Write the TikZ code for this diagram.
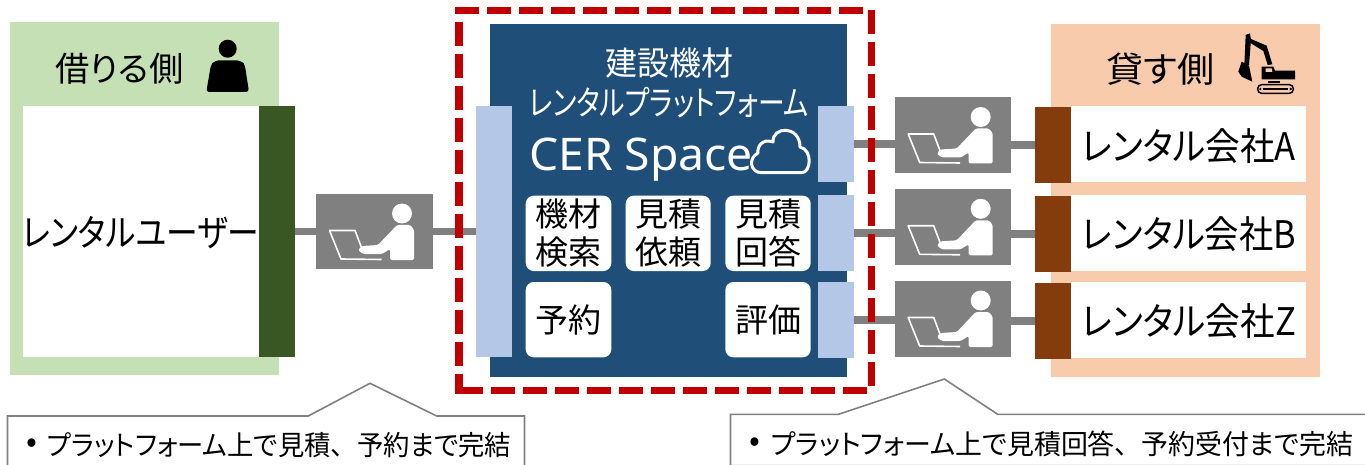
\documentclass[tikz,border=0pt]{standalone}
\usepackage{graphicx}
\usepackage{fontspec}
\setmainfont{Noto Sans CJK JP}[RawFeature={+palt}]
\newfontfamily\fullw{Noto Sans CJK JP}
\newfontfamily\latinfont{Noto Sans}
\usetikzlibrary{calc}
\definecolor{greenbg}{HTML}{C5E0B4}
\definecolor{greendk}{HTML}{385723}
\definecolor{orangebg}{HTML}{F8CBAD}
\definecolor{browndk}{HTML}{843C0C}
\definecolor{navy}{HTML}{1F4E79}
\definecolor{barblue}{HTML}{B4C7E7}
\definecolor{redframe}{HTML}{C00000}
\definecolor{linegrey}{HTML}{808080}
\newcommand\fsz[2]{\fontsize{#1}{#2}\selectfont}
\newcommand\fitw[2]{\resizebox{#1pt}{\height}{#2}}
% \bx{name}{style}{x1}{y1}{x2}{y2}
\newcommand\bx[6]{\node[#2,inner sep=0pt,outer sep=0pt,minimum width={(#5-#3)*1pt},minimum height={(#6-#4)*1pt}] (#1) at ({(#3+#5)/2},{(#4+#6)/2}) {};}
\tikzset{
  greenpanel/.style={fill=greenbg},
  orangepanel/.style={fill=orangebg},
  whitepanel/.style={fill=white},
  darkbar/.style={fill=greendk},
  brownbar/.style={fill=browndk},
  bluebar/.style={fill=barblue},
  navypanel/.style={fill=navy},
  opbox/.style={fill=linegrey},
  funcbox/.style={fill=white,rounded corners=8pt},
  link/.style={draw=linegrey,line width=7.5pt},
  frameline/.style={draw=redframe,line width=7.5pt,dash pattern=on 24pt off 8pt},
  callout/.style={draw=linegrey,line width=1.6pt,fill=white},
  lbl/.style={inner sep=0pt,outer sep=0pt,text=black},
  wlbl/.style={inner sep=0pt,outer sep=0pt,text=white},
  oper/.pic={
    \fill[white] (86,19.5) circle (10);
    \fill[white,rounded corners=1.5pt] (81,31) -- (91,31) .. controls (95,31) and (98,35) .. (98,39) -- (98,66) -- (74,66) -- (74,55) -- (66,60) -- (47,60) -- (42,56) -- (46,52) -- (62,51) -- cycle;
    \draw[white,line width=1.6pt,line join=round] (46,55) -- (39,36.5) -- (13.5,36.5) -- (25,65) -- (65.5,65.5);
  }
}
\begin{document}
\begin{tikzpicture}[x=1pt,y=-1pt]
\useasboundingbox (0,0) rectangle (1365,465);
\clip (0,0) rectangle (1365,465);
% left side
\bx{lpanel}{greenpanel}{10}{22}{279}{375}
\bx{lwhite}{whitepanel}{23}{106}{259}{357}
\bx{lbar}{darkbar}{259}{106}{295}{357}
\node[lbl,font=\fsz{34}{34}] (ltitle) at (119.5,69) {\fitw{128}{借りる側}};
\node[lbl,font=\fsz{37}{37}] (luser) at (140.5,233) {\fitw{237}{レンタルユーザー}};
\fill (227.7,48.7) circle (9);
\fill[rounded corners=3pt] (206.3,92) -- (210.7,66) .. controls (213,62) and (218,60.3) .. (222,60.3) -- (233,60.3) .. controls (238,60.3) and (243,62) .. (245,66) -- (249,92) -- cycle;
% right panel
\bx{rpanel}{orangepanel}{1051}{24}{1320}{377}
\bx{rw1}{whitepanel}{1071}{106}{1306}{182}
\bx{rw2}{whitepanel}{1071}{195}{1306}{271}
\bx{rw3}{whitepanel}{1071}{282}{1306}{358}
\bx{rb1}{brownbar}{1035}{107}{1071}{183}
\bx{rb2}{brownbar}{1035}{196}{1071}{272}
\bx{rb3}{brownbar}{1035}{283}{1071}{359}
\node[lbl,font=\fsz{35}{35}] (rtitle) at (1160.5,69) {\fitw{108}{貸す側}};
\node[lbl,font=\fsz{38}{38}] (ra) at (1189,146) {\fitw{214}{レンタル会社A}};
\node[lbl,font=\fsz{38}{38}] (rb) at (1189,234.5) {\fitw{214}{レンタル会社B}};
\node[lbl,font=\fsz{38}{38}] (rz) at (1189,321.5) {\fitw{214}{レンタル会社Z}};
% excavator
\begin{scope}[shift={(1225,25)},x=0.3333pt,y=-0.3333pt]
\fill (62,30) -- (75,25) -- (78,45) -- (72,120) -- (58,120) -- cycle;
\fill (78,42) -- (125,62) -- (142,118) -- (128,120) -- (115,78) -- (78,55) -- cycle;
\fill (50,110) -- (72,122) -- (82,170) -- (50,155) -- (40,140) -- cycle;
\fill (110,125) -- (145,125) -- (150,137) -- (210,137) -- (210,163) -- (110,163) -- cycle;
\fill[orangebg] (122,130) -- (140,130) -- (142,141) -- (122,141) -- cycle;
\fill (128,168) rectangle (165,175);
\draw[line width=1.5pt,rounded corners=4pt] (98,179) rectangle (205,205);
\fill (113,188) rectangle (190,196);
\fill (106,192) circle (4);
\fill (197,192) circle (4);
\end{scope}
% operators
\bx{opl}{opbox}{316}{194}{433}{269}
\bx{op1}{opbox}{894.7}{97.5}{1011}{173}
\bx{op2}{opbox}{894.7}{189.3}{1011}{265}
\bx{op3}{opbox}{894.7}{281}{1011}{356.7}
% centre
\bx{cpanel}{navypanel}{490}{24}{847}{377}
\bx{cbarl}{bluebar}{476}{106}{512}{357}
\bx{cbar1}{bluebar}{818}{106}{854}{181.7}
\bx{cbar2}{bluebar}{818}{195}{854}{270.7}
\bx{cbar3}{bluebar}{818}{282}{854}{357.7}
% connectors
\draw[link] (lbar.east) -- (opl.west);
\draw[link] (opl.east) -- (cbarl.west);
\draw[link] (cbar1.east) -- (cbar1.east -| op1.west);
\draw[link] (cbar2.east) -- (cbar2.east -| op2.west);
\draw[link] (cbar3.east) -- (cbar3.east -| op3.west);
\draw[link] (rb1.west) -- (rb1.west -| op1.east);
\draw[link] (rb2.west) -- (rb2.west -| op2.east);
\draw[link] (rb3.west) -- (rb3.west -| op3.east);
\pic at (316,194) {oper};
\pic at (894.7,97.5) {oper};
\pic at (894.7,189.3) {oper};
\pic at (894.7,281) {oper};
% centre labels
\node[wlbl,font=\fsz{33}{33}] (ctitle1) at (669,63) {\fitw{128}{建設機材}};
\node[wlbl,font=\fsz{34}{34}] (ctitle2) at (669,103) {\fitw{280}{レンタルプラットフォーム}};
\node[wlbl,font=\latinfont\fsz{45}{45},anchor=base west] (cer) at (529,171) {\fitw{224}{CER Space}};
\draw[white,line width=3pt,line join=round] (761.7,172.7) -- (801.7,172.7) .. controls (811,172.7) and (813,150) .. (800,147) .. controls (800,125) and (772,126) .. (773,142) .. controls (762,138) and (757,147) .. (758,153) .. controls (748,158) and (750,172.7) .. (761.7,172.7) -- cycle;
\bx{f1}{funcbox}{525.7}{195.7}{611.3}{271}
\bx{f2}{funcbox}{625.7}{195.7}{710.7}{271}
\bx{f3}{funcbox}{725.3}{195.7}{810.7}{271}
\bx{f4}{funcbox}{525.7}{282}{611.3}{357.3}
\bx{f5}{funcbox}{725.3}{282}{810.7}{357.3}
\node[lbl,font=\fsz{33}{38},align=center] (t1) at (f1) {機材\\検索};
\node[lbl,font=\fsz{33}{38},align=center] (t2) at (f2) {見積\\依頼};
\node[lbl,font=\fsz{33}{38},align=center] (t3) at (f3) {見積\\回答};
\node[lbl,font=\fsz{33}{38}] (t4) at (f4) {予約};
\node[lbl,font=\fsz{33}{38}] (t5) at (f5) {評価};
% red frame
\draw[frameline] (455,10.5) -- (863,10.5);
\draw[frameline] (871.5,10) -- (871.5,387);
\draw[frameline] (458.7,390.5) -- (867,390.5);
\draw[frameline] (459,21.7) -- (459,394);
% callouts
\draw[callout] (7.5,470) -- (7.5,416) -- (308.3,416) -- (370,383.3) -- (436.7,416) -- (524.5,416) -- (524.5,470);
\draw[callout] (730.5,465.6) -- (730.5,414.3) -- (838.5,414.3) -- (944.3,379) -- (997.7,414.3) -- (1370,414.3) -- (1370,465.6) -- cycle;
\node[lbl,font=\fsz{32}{32}] (n1b) at (32,446) {•};
\node[lbl,font=\fsz{27.5}{27.5}] (n1) at (279,445) {\fitw{464}{プラットフォーム上で見積{\fullw 、}予約まで完結}};
\node[lbl,font=\fsz{32}{32}] (n2b) at (755,444.5) {•};
\node[lbl,font=\fsz{27.5}{27.5}] (n2) at (1062,443.5) {\fitw{582}{プラットフォーム上で見積回答{\fullw 、}予約受付まで完結}};
\end{tikzpicture}
\end{document}
